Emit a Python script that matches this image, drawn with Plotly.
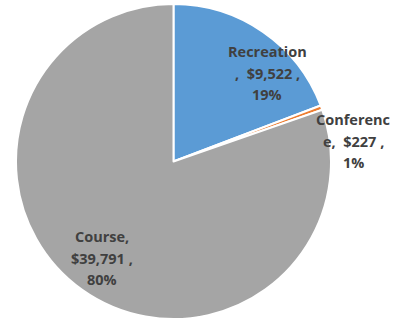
import plotly.graph_objects as go

# Spending by category
categories = ["Recreation", "Conference", "Course"]
amounts = [9522, 227, 39791]
percent_labels = [19, 1, 80]
colors = ["#5B9BD5", "#ED7D31", "#A5A5A5"]

# Wrapped label text, split where the label box breaks its lines
label_lines = [
    ["Recreation", ",\u00a0\u00a0${:,} ,", "{}%"],
    ["Conferenc", "e,\u00a0\u00a0${:,} ,", "{}%"],
    ["Course,", "${:,} ,", "{}%"],
]
# Label centres in pixel space (x, y of the middle line from top-left)
label_pos = [(267, 73), (353, 141), (102, 258)]
LINE_GAP = 21.5

W, H = 403, 322

fig = go.Figure(
    go.Pie(
        labels=categories,
        values=amounts,
        sort=False,
        direction="clockwise",
        rotation=0,
        marker=dict(colors=colors, line=dict(color="white", width=2)),
        textinfo="none",
        hoverinfo="label+value+percent",
        domain=dict(x=[16 / W, 331 / W], y=[1 - 320 / H, 1 - 3 / H]),
        showlegend=False,
    )
)

for lines, amt, pct, (px, py) in zip(label_lines, amounts, percent_labels, label_pos):
    texts = [lines[0], lines[1].format(amt), lines[2].format(pct)]
    for i, t in enumerate(texts):
        ly = py + (i - 1) * LINE_GAP
        fig.add_annotation(
            x=px / W,
            y=1 - ly / H,
            xref="paper",
            yref="paper",
            xanchor="center",
            yanchor="middle",
            text="<b>" + t + "</b>",
            showarrow=False,
            font=dict(family="Open Sans", size=14.5, color="#404040"),
        )

fig.update_layout(
    width=W,
    height=H,
    margin=dict(l=0, r=0, t=0, b=0),
    paper_bgcolor="white",
    plot_bgcolor="white",
)

fig.write_html("out.html")
